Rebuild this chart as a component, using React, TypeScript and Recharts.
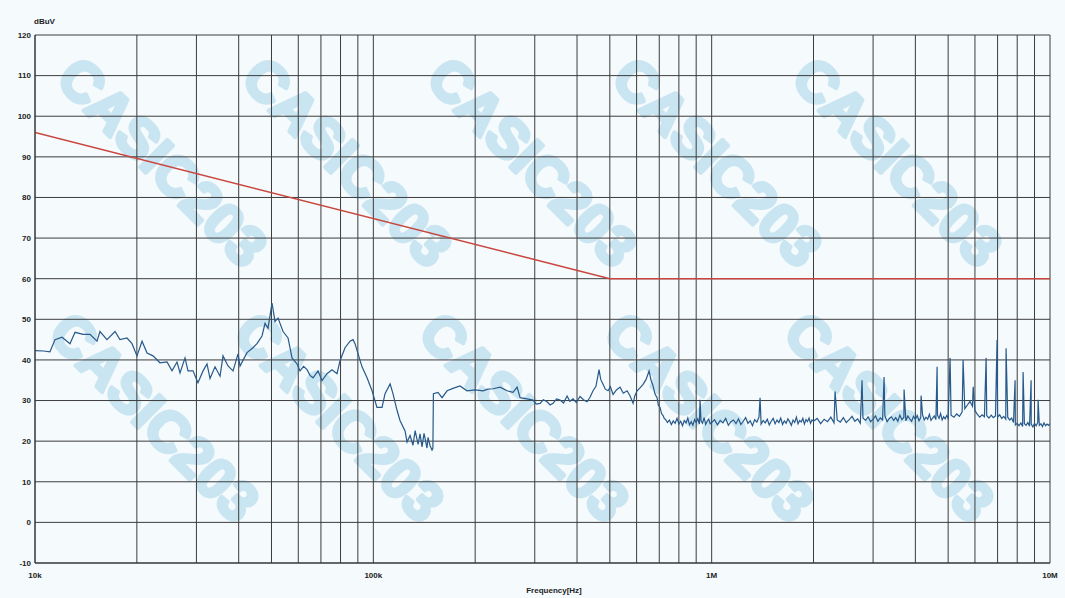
import React from 'react';
import { LineChart, Line, XAxis, YAxis, CartesianGrid } from 'recharts';

// Limit line (Hz, dBuV)
const limitFreqHz = [10000, 500000, 10000000];
const limitLevel = [96, 60, 60];

// Measured trace, 10 kHz - 150 kHz  [kHz, dBuV]
const lowBand: [number, number][] = [
  [10.0, 42.3], [10.6, 42.2], [11.07, 42], [11.46, 45], [12.02, 45.6], [12.69, 44], [13.13, 46.8],
  [13.87, 46.3], [14.54, 46.3], [15.25, 44.6], [15.56, 47], [16.32, 45], [17.24, 47], [17.83, 45],
  [18.7, 45.4], [19.35, 44], [20.02, 41], [20.72, 44.6], [21.44, 41.7], [22.33, 41], [23.41, 39.3],
  [24.56, 39.5], [25.41, 37.3], [26.29, 39.5], [26.83, 36.8], [27.76, 40.5], [28.33, 37.3],
  [29.31, 37.3], [30.32, 34.4], [31.38, 37.3], [32.24, 39], [32.91, 35.4], [34.05, 38.3],
  [35.23, 36], [35.95, 41], [37.2, 38.5], [38.49, 37.3], [39.82, 41.5], [40.36, 38.5],
  [42.33, 41.8], [44.09, 43], [45.3, 44], [46.88, 45.9], [47.85, 49], [48.83, 47.8], [50.18, 54],
  [51.22, 49.5], [52.28, 50.3], [54.09, 47], [55.96, 45.4], [57.5, 40.5], [59.5, 39], [60.72, 37.3],
  [62.2, 38.4], [63.68, 37.6], [65.0, 36.2], [66.34, 35.6], [68.63, 37.3], [70.53, 34.9],
  [72.97, 36.6], [75.49, 37.6], [78.11, 36.6], [79.72, 39.8], [82.48, 43], [85.34, 44.6],
  [87.1, 45], [88.29, 44], [90.12, 41.5], [92.6, 38.3], [95.81, 35.6], [99.13, 32.4],
  [102.5, 28.3], [106.1, 28.3], [108.3, 31.7], [112.1, 34.1], [114.3, 31.7], [117.5, 27.6],
  [119.9, 25.1], [124.1, 22.5], [125.8, 19.8], [128.4, 21.4], [131.0, 19.0], [132.9, 22.6],
  [135.6, 19.2], [137.4, 21.8], [139.3, 18.6], [141.2, 21.9], [144.1, 18.3], [145.1, 20.9],
  [147.1, 18.9], [149.1, 17.8], [150.0, 18.2],
];

// Measured trace, 150 kHz - 725 kHz  [kHz, dBuV]
const midBand: [number, number][] = [
  [150.5, 31.7], [155.3, 32], [159.6, 30.7], [165.2, 32.4], [172.0, 33], [180.4, 33.6],
  [189.2, 32.4], [199.8, 32.6], [211.0, 32.4], [218, 32.8], [225.9, 32.9], [236.9, 33.3],
  [248.5, 32.4], [258.8, 32], [266.0, 33.3], [271.5, 30.7], [284.7, 30.4], [296.6, 30.1],
  [303, 29.1], [311.1, 29.3], [318, 30.2], [326.3, 29.7], [333, 28.9], [339.8, 29.3],
  [348, 30.4], [356.4, 30.1], [365, 29.4], [373.8, 31.1], [381, 29.8], [389.4, 30.4],
  [398, 29.5], [408.3, 31], [418, 30.2], [428.2, 29.7], [437, 30.8], [446.0, 32.4],
  [455, 33.5], [464.6, 37.6], [470, 35.2], [477.5, 34], [485, 32.8], [494.1, 32.4],
  [502, 33.4], [511.2, 31.5], [523, 32.6], [536.1, 33.3], [548, 31.8], [562.3, 32.4],
  [574, 31.1], [585.8, 29.3], [593, 31.2], [602.0, 32.4], [614, 33.1], [627.0, 34],
  [640, 35.2], [653.1, 37.3], [662, 35], [671.1, 33.6], [680, 31.6], [689.6, 30.7],
  [696, 28.8], [703.8, 28.3], [711, 26.8], [718.4, 26.3], [725, 25.5],
];

// Measured noise floor above 0.73 MHz  [MHz, dBuV]
const hfBandA: [number, number][] = [
  [0.73, 25.4], [0.74, 24.6], [0.75, 25.2], [0.76, 24.1], [0.77, 25.0], [0.78, 24.4], [0.79, 25.6],
  [0.80, 24.2], [0.81, 24.9], [0.82, 23.8], [0.83, 25.1], [0.84, 24.5], [0.85, 25.7], [0.86, 24.0],
  [0.87, 24.8], [0.88, 23.9], [0.89, 25.3], [0.90, 24.6], [0.91, 25.5], [0.92, 24.2], [0.93, 25.0],
  [0.94, 24.4], [0.95, 25.8], [0.96, 24.1], [0.97, 24.9], [0.98, 25.4], [0.99, 24.3],
];
const hfBandB: [number, number][] = [
  [1.00, 24.6], [1.02, 25.3], [1.04, 24.0], [1.06, 25.1], [1.08, 24.5], [1.10, 25.6], [1.12, 23.9],
  [1.14, 24.8], [1.16, 25.2], [1.18, 24.3], [1.20, 25.5], [1.22, 24.1], [1.24, 24.9], [1.26, 25.8],
  [1.28, 24.4], [1.30, 25.0], [1.32, 23.8], [1.34, 25.3], [1.36, 24.7], [1.38, 25.9], [1.40, 24.2],
  [1.42, 25.1], [1.44, 24.5], [1.46, 25.4], [1.48, 24.0], [1.50, 24.9], [1.52, 25.6], [1.54, 24.3],
  [1.56, 25.2], [1.58, 24.6], [1.60, 25.7], [1.62, 24.1], [1.64, 25.0], [1.66, 24.4], [1.68, 25.5],
  [1.70, 24.8], [1.72, 23.9], [1.74, 25.2], [1.76, 24.6], [1.78, 25.9], [1.80, 24.3], [1.82, 25.1],
  [1.84, 24.7], [1.86, 25.6], [1.88, 24.2], [1.90, 25.3], [1.92, 24.8], [1.94, 25.7], [1.96, 24.4],
  [1.98, 25.2],
];
const hfBandC: [number, number][] = [
  [2.00, 24.9], [2.05, 25.6], [2.10, 24.3], [2.15, 25.4], [2.20, 24.8], [2.25, 25.9], [2.30, 24.5],
  [2.35, 25.2], [2.40, 24.7], [2.45, 25.8], [2.50, 24.6], [2.55, 25.3], [2.60, 26.1], [2.65, 24.9],
  [2.70, 25.5], [2.75, 24.4], [2.80, 25.7], [2.85, 25.1], [2.90, 26.0], [2.95, 24.8], [3.00, 25.4],
  [3.05, 26.2], [3.10, 24.9], [3.15, 25.7], [3.20, 25.2], [3.25, 26.3], [3.30, 24.8], [3.35, 25.6],
  [3.40, 26.0], [3.45, 25.1], [3.50, 25.8], [3.55, 24.9], [3.60, 26.4], [3.65, 25.3], [3.70, 25.9],
  [3.75, 25.0], [3.80, 26.2], [3.85, 25.5], [3.90, 24.9], [3.95, 26.1], [4.00, 25.4], [4.05, 26.3],
  [4.10, 25.0], [4.15, 25.8], [4.20, 26.5], [4.25, 25.2], [4.30, 25.9], [4.35, 25.4], [4.40, 26.6],
  [4.45, 25.1], [4.50, 25.7], [4.55, 26.2], [4.60, 25.3], [4.65, 26.4], [4.70, 25.6], [4.75, 26.8],
  [4.80, 25.2], [4.85, 26.0], [4.90, 25.5], [4.95, 26.3],
];
const hfBandD: [number, number][] = [
  [5.0, 25.6], [5.1, 26.4], [5.2, 25.9], [5.3, 26.7], [5.4, 26.1], [5.5, 27.2], [5.6, 28.0],
  [5.7, 28.9], [5.8, 29.8], [5.9, 28.6], [6.0, 27.5], [6.1, 26.6], [6.2, 25.9], [6.3, 26.5],
  [6.4, 26.0], [6.5, 26.3], [6.6, 25.7], [6.7, 26.4], [6.8, 25.8], [6.9, 26.2], [7.0, 25.9],
  [7.1, 26.5], [7.2, 25.6], [7.3, 26.1], [7.4, 25.4], [7.5, 25.9], [7.6, 25.2], [7.7, 25.7],
  [7.8, 24.6], [7.9, 24.0], [8.0, 24.4], [8.1, 23.8], [8.2, 24.5], [8.3, 23.6], [8.4, 24.3],
  [8.5, 23.9], [8.6, 24.6], [8.7, 23.7], [8.8, 24.2], [8.9, 23.5], [9.0, 24.4], [9.1, 23.8],
  [9.2, 24.6], [9.3, 23.9], [9.4, 24.3], [9.5, 23.6], [9.6, 24.5], [9.7, 23.8], [9.8, 24.2],
  [9.9, 23.9], [10.0, 24.3],
];
// Narrow emission spikes  [MHz, dBuV]
const spikes: [number, number][] = [
  [0.924, 30.2], [1.39, 30.7], [2.316, 32.2], [2.783, 35], [3.233, 35.8], [3.704, 32.7],
  [4.159, 31.2], [4.638, 38.3], [5.066, 40.5], [5.535, 40], [5.93, 33.4], [6.475, 40.5],
  [6.975, 44.9], [7.416, 42.9], [7.885, 35], [8.327, 37], [8.794, 35], [9.222, 30.2],
];

const xTicks = [
  10000, 20000, 30000, 40000, 50000, 60000, 70000, 80000, 90000,
  100000, 200000, 300000, 400000, 500000, 600000, 700000, 800000, 900000,
  1000000, 2000000, 3000000, 4000000, 5000000, 6000000, 7000000, 8000000, 9000000,
  10000000,
];
const xTickLabels: Record<number, string> = { 10000: '10k', 100000: '100k', 1000000: '1M', 10000000: '10M' };
const yTicks = [-10, 0, 10, 20, 30, 40, 50, 60, 70, 80, 90, 100, 110, 120];

const FONT = '"Liberation Sans", Arial, sans-serif';

function Watermark() {
  const cols = [80, 265, 450, 635, 815];
  const rows = [55, 310];
  const items: React.ReactNode[] = [];
  rows.forEach((ry, ri) =>
    cols.forEach((cx, ci) => {
      const x = cx - 26 + (ri === 1 ? -8 : 0);
      const y = ry + 26;
      items.push(
        <text
          key={`${ri}-${ci}`}
          x={x}
          y={y}
          transform={`rotate(45 ${x} ${y})`}
          fontFamily={FONT}
          fontWeight={700}
          fontSize={56}
          fill="#bfe0ef"
          stroke="#bfe0ef"
          strokeWidth={4}
          strokeLinejoin="round"
          opacity={0.8}
        >
          CASIC203
        </text>
      );
    })
  );
  return (
    <svg width={1065} height={598} style={{ position: 'absolute', left: 0, top: 0 }}>
      {items}
    </svg>
  );
}

export default function App() {
  const limitData = limitFreqHz.map((f, i) => ({ f, v: limitLevel[i] }));
  const lowData = [...lowBand, ...midBand].map(([k, v]) => ({ f: k * 1000, v }));
  const hfData = [...hfBandA, ...hfBandB, ...hfBandC, ...hfBandD, ...spikes]
    .map(([m, v]) => ({ f: m * 1e6, v }))
    .sort((a, b) => a.f - b.f);
  const traceData = [...lowData, ...hfData];

  return (
    <div
      style={{
        position: 'absolute',
        left: 0,
        top: 0,
        width: 1065,
        height: 598,
        background: '#f5fafd',
        overflow: 'hidden',
        fontFamily: FONT,
      }}
    >
      <Watermark />
      <div style={{ position: 'absolute', left: 0, top: 0 }}>
        <LineChart width={1065} height={598} margin={{ top: 35, right: 15, bottom: 10, left: 0 }}>
          <CartesianGrid stroke="#3c3c3c" strokeWidth={1} />
          <XAxis
            dataKey="f"
            type="number"
            scale="log"
            domain={[10000, 10000000]}
            ticks={xTicks}
            interval={0}
            allowDataOverflow
            height={25}
            tickLine={false}
            tickSize={0}
            tickMargin={9}
            axisLine={{ stroke: '#333' }}
            tick={{ fontSize: 8, fontWeight: 700, fill: '#222', fontFamily: FONT }}
            tickFormatter={(t: number) => xTickLabels[t] ?? ''}
          />
          <YAxis
            type="number"
            domain={[-10, 120]}
            ticks={yTicks}
            interval={0}
            width={35}
            tickLine={false}
            tickSize={0}
            tickMargin={4}
            axisLine={{ stroke: '#333' }}
            tick={{ fontSize: 8, fontWeight: 700, fill: '#222', fontFamily: FONT }}
          />
          <Line
            data={limitData}
            dataKey="v"
            type="linear"
            stroke="#c8463e"
            strokeWidth={1.5}
            dot={false}
            isAnimationActive={false}
          />
          <Line
            data={traceData}
            dataKey="v"
            type="linear"
            stroke="#28598a"
            strokeWidth={1.2}
            dot={false}
            isAnimationActive={false}
          />
        </LineChart>
      </div>
      <svg width={1065} height={598} style={{ position: 'absolute', left: 0, top: 0, pointerEvents: 'none' }}>
        <text x={34} y={24} fontFamily={FONT} fontWeight={700} fontSize={8} fill="#222">
          dBuV
        </text>
        <text x={554} y={593} textAnchor="middle" fontFamily={FONT} fontWeight={700} fontSize={8} fill="#222">
          Frequency[Hz]
        </text>
      </svg>
    </div>
  );
}
